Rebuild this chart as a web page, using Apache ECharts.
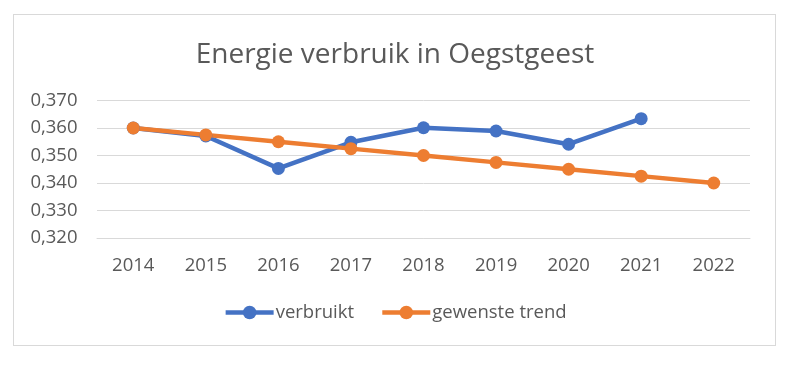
<!DOCTYPE html>
<html><head><meta charset="utf-8">
<script src="https://cdn.jsdelivr.net/npm/echarts@6/dist/echarts.min.js"></script>
<style>html,body{margin:0;padding:0;background:#fff}#c{width:790px;height:366px}
#b{position:absolute;left:13px;top:14px;width:761px;height:330px;border:1px solid #d9d9d9;pointer-events:none}</style>
</head><body><div id="c"></div><div id="b"></div>
<script>
const years = ['2014','2015','2016','2017','2018','2019','2020','2021','2022'];
const verbruikt = [0.360, 0.3571, 0.3453, 0.3548, 0.3601, 0.3589, 0.3541, 0.3634, null];
const trend = [0.360, 0.3575, 0.355, 0.3525, 0.350, 0.3475, 0.345, 0.3425, 0.340];
const FONT = 'Open Sans';
const chart = echarts.init(document.getElementById('c'));
chart.setOption({
  animation: false,
  title: {text: 'Energie verbruik in Oegstgeest', left: 'center', top: 36,
    textStyle: {fontFamily: FONT, fontSize: 28, fontWeight: 'normal', color: '#595959'}},
  grid: {left: 97, right: 40, top: 100.5, bottom: 128, containLabel: false},
  legend: {top: 298, left: 'center', itemGap: 26, itemWidth: 48, itemHeight: 17,
    lineStyle: {width: 4.5},
    textStyle: {fontFamily: FONT, fontSize: 18.5, color: '#595959', padding: [0,0,0,-3]},
    data: ['verbruikt', 'gewenste trend']},
  xAxis: {type: 'category', data: years, boundaryGap: true,
    axisLine: {show: true, lineStyle: {color: '#d9d9d9', width: 1}},
    axisTick: {show: false},
    axisLabel: {fontFamily: FONT, fontSize: 18.5, color: '#595959', margin: 18}},
  yAxis: {type: 'value', min: 0.32, max: 0.37, interval: 0.01,
    axisLine: {show: false}, axisTick: {show: false},
    splitLine: {lineStyle: {color: '#d9d9d9', width: 1}},
    axisLabel: {fontFamily: FONT, fontSize: 18.5, color: '#595959', margin: 19.5,
      formatter: v => v.toFixed(3).replace('.', ',')}},
  series: [
    {name: 'verbruikt', type: 'line', data: verbruikt, symbol: 'circle', symbolSize: 13,
      lineStyle: {width: 4.5, color: '#4472C4'}, itemStyle: {color: '#4472C4'}},
    {name: 'gewenste trend', type: 'line', data: trend, symbol: 'circle', symbolSize: 13,
      lineStyle: {width: 4.5, color: '#ED7D31'}, itemStyle: {color: '#ED7D31'}}
  ]
});
</script></body></html>
